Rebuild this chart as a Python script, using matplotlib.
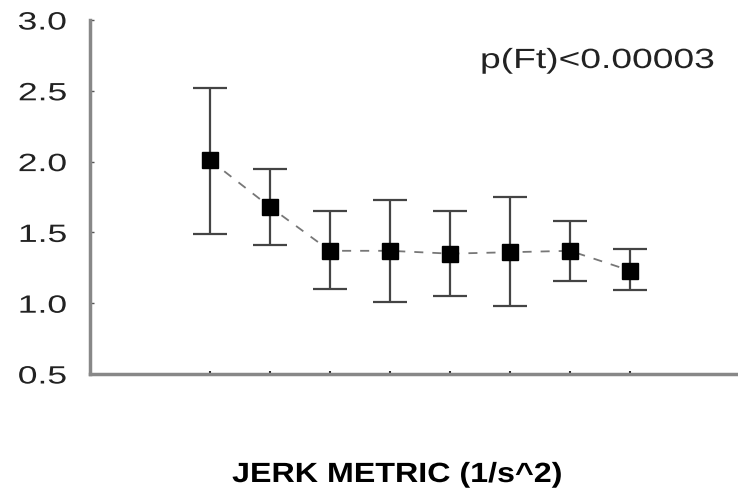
import matplotlib
matplotlib.use("Agg")
import matplotlib.pyplot as plt
from matplotlib.patheffects import AbstractPathEffect
from matplotlib.transforms import Affine2D

positions = [1, 2, 3, 4, 5, 6, 7, 8]
means = [2.01, 1.68, 1.37, 1.37, 1.35, 1.36, 1.37, 1.23]
upper = [2.52, 1.95, 1.65, 1.73, 1.65, 1.75, 1.58, 1.38]
lower = [1.49, 1.41, 1.10, 1.01, 1.05, 0.98, 1.16, 1.09]
yticks = [0.5, 1.0, 1.5, 2.0, 2.5, 3.0]
ytick_labels = ["0.5", "1.0", "1.5", "2.0", "2.5", "3.0"]
annotation = "p(Ft)<0.00003"
xlabel = "JERK METRIC (1/s^2)"

plt.rcParams['font.family'] = ['Liberation Sans', 'DejaVu Sans']


class HStretch(AbstractPathEffect):
    """Stretch text glyphs horizontally about the text's anchor point."""
    def __init__(self, text, sx):
        super().__init__()
        self.text = text
        self.sx = sx

    def draw_path(self, renderer, gc, tpath, affine, rgbFace=None):
        x0 = self.text.get_transform().transform(self.text.get_position())[0]
        t = affine + Affine2D().translate(-x0, 0).scale(self.sx, 1).translate(x0, 0)
        renderer.draw_path(gc, tpath, t, rgbFace)


fig = plt.figure(figsize=(7.38, 4.92), dpi=100)
ax = fig.add_axes([90/738, 1-374/492, 1-90/738, (374-20)/492])

err_lo = [m - l for m, l in zip(means, lower)]
err_hi = [u - m for m, u in zip(means, upper)]

ax.plot(positions, means, linestyle=(0, (5, 5)), color='#777777', lw=1.3, zorder=2)
ax.errorbar(positions, means, yerr=[err_lo, err_hi], fmt='none', ecolor='#444444',
            elinewidth=1.6, capsize=12, capthick=1.6, zorder=3)
ax.plot(positions, means, linestyle='none', marker='s', markersize=11,
        color='black', zorder=4)

ax.set_xlim(-1, 9.8)
ax.set_ylim(0.5, 3.0)
ax.set_yticks(yticks)
ax.set_yticklabels(ytick_labels, fontsize=18, color='#222222')
ax.set_xticks(positions)
ax.set_xticklabels([])
ax.tick_params(axis='y', direction='in', length=3, width=1, color='#555555', pad=16.5)
ax.tick_params(axis='x', direction='in', length=2, width=1.5, color='#333333')
for lab in ax.get_yticklabels():
    lab.set_path_effects([HStretch(lab, 1.42)])

for s in ['top', 'right']:
    ax.spines[s].set_visible(False)
for s in ['left', 'bottom']:
    ax.spines[s].set_color('#888888')
    ax.spines[s].set_linewidth(2.5)
ax.spines['left'].set_bounds(0.5, 3.0)

t1 = fig.text(480/738, 1-61/492, annotation, fontsize=20,
              ha='left', va='center', color='#222222')
t1.set_path_effects([HStretch(t1, 1.34)])
t2 = fig.text(397/738, 1-475/492, xlabel, fontsize=20, fontweight='bold',
              ha='center', va='center', color='black')
t2.set_path_effects([HStretch(t2, 1.16)])

fig.savefig("out.png", dpi=100)
